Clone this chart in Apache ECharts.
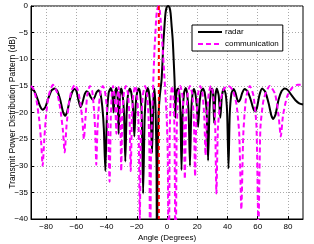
<!DOCTYPE html>
<html><head><meta charset="utf-8">
<script src="https://cdn.jsdelivr.net/npm/echarts@6/dist/echarts.min.js"></script>
<style>html,body{margin:0;padding:0;background:#fff}#c{width:314px;height:244px}</style>
</head><body><div id="c"></div>
<script>
const xTicks = [-80, -60, -40, -20, 0, 20, 40, 60, 80];
const yTicks = [0, -5, -10, -15, -20, -25, -30, -35, -40];
const seriesNames = ['radar', 'communication'];
const commDirection = -5.4;

const radar = [
[-90,-15.5],[-88,-15.9],[-86,-17.2],[-84,-18.8],[-82.2,-19.5],[-80.5,-19],[-78.5,-17.3],[-76.5,-15.9],[-74.5,-15.5],[-72.5,-16],[-70.5,-17.8],[-68.8,-19.9],[-67.4,-20.6],[-66,-19.8],[-64.5,-17.8],[-62.8,-16.2],[-61.2,-15.6],[-60,-15.9],[-58.8,-17.4],[-57.3,-19],[-56,-18.2],[-54.5,-16.6],[-53.1,-16],[-51.7,-16.4],[-50.3,-17.2],[-49.2,-17.6],[-48,-17.2],[-46.6,-16.2],[-45.3,-15.8],[-44,-16.5],[-42.8,-19],[-41.8,-23],[-40.8,-31],
[-39.8,-21],[-38.6,-16.3],[-37.2,-15.4],[-36.2,-16.5],[-35.3,-20],[-34.5,-16.4],[-33.6,-15.4],[-32.7,-17],[-32,-24],[-31.2,-17.2],[-30.3,-15.5],[-29.3,-16.8],[-28.4,-20.5],[-27.6,-29.2],[-26.7,-20],[-25.7,-16.4],[-24.6,-15.5],[-23.5,-16.5],[-22.5,-19],[-21.6,-24.5],[-20.7,-18.5],[-19.7,-16.1],[-18.7,-15.5],[-17.7,-16.5],[-16.7,-20.5],[-15.8,-35.2],[-14.8,-21],[-13.8,-16.5],[-12.8,-15.4],[-11.8,-16.5],[-10.8,-20],[-9.9,-27.6],[-9.1,-18.5],[-8.3,-15.5],[-7.5,-20],[-6.9,-30],[-6.6,-60],[-6.3,-30],[-5.7,-21],[-4.8,-17],[-3.6,-13.9],[-2.9,-10],[-2.3,-6.4],[-1.6,-3.5],[-1,-1.4],[-0.3,-0.3],[0.7,0],[1.7,-0.3],[2.4,-1.4],[3,-3.5],[3.8,-6.4],[4.4,-10],[5,-13.9],[5.3,-17],[5.5,-21],[5.9,-17.5],[6.6,-15.8],[7.4,-15.5],[8.2,-16.5],[8.9,-20],[9.6,-30.8],[10.4,-20],[11.3,-16.3],[12.3,-15.4],[13.3,-16.4],[14.3,-20],[15.2,-30],[16.1,-19.5],[17,-16.2],[17.8,-15.6],[18.8,-16.5],[19.8,-19],[20.6,-22.7],[21.6,-18],[22.7,-16],[23.8,-15.5],[24.9,-16.2],[26.2,-19.5],[27.2,-29],[28.1,-19.5],[29,-16.1],[29.8,-15.5],[30.5,-16.5],[31.2,-22],[32,-17],[33,-15.5],[34.2,-16.8],[35.3,-21],[36.3,-17],[37.5,-15.5],[38.8,-16.5],[39.8,-20],[40.7,-30.5],
[41.5,-20.5],[42.6,-16.5],[44,-15.6],[45.3,-16.3],[46.4,-17.5],[47.3,-18],[48.4,-17.6],[49.8,-16.3],[51.5,-15.6],[53.3,-16],[55.3,-17.5],[57,-19.2],[58.3,-19.8],[59.6,-19],[61.2,-16.7],[63,-15.5],[65,-16.1],[67.3,-18.3],[69,-20.5],[70.3,-21.2],[71.8,-20.4],[73.8,-17.6],[75.8,-16],[77.8,-15.5],[80,-15.8],[82.5,-16.8],[85,-17.7],[87.5,-18.3],[90,-18.5]
];

const communication = [
[-90,-15],[-88.5,-15.5],[-86.5,-17.5],[-84.5,-21.5],[-83.3,-25.5],[-82.3,-30],[-81.2,-25],[-80,-20.5],[-78.3,-16.8],[-75.5,-14.8],[-72.8,-16.2],[-70.8,-19],[-69,-23],[-67.7,-27.5],[-66.5,-22.5],[-65,-18.5],[-63.3,-16],[-61,-14.8],[-59,-15.8],[-57.3,-18.3],[-56,-21.5],[-55,-25],[-54,-21.2],[-52.8,-16.8],[-51,-15],[-49.5,-16],[-48.3,-19.5],[-47.5,-23.5],[-46.8,-29.8],[-46,-23],[-45,-18.5],[-43.8,-15.8],[-42.5,-15],[-41.2,-15.8],[-40,-18.5],[-39,-23.5],[-38,-33],[-37.2,-21],[-36.5,-16.5],[-35.7,-15],[-34.9,-16.5],[-34.1,-19.5],[-33.5,-24],[-32.9,-18.5],[-32,-15.2],[-31.3,-17.5],[-30.8,-22],[-30.3,-31],[-29.6,-21],[-28.6,-16.5],[-27.2,-15],[-25.8,-16.5],[-24.8,-21],[-24,-31],[-23.2,-21],[-22.2,-16.5],[-21,-15],[-19.8,-16.8],[-18.8,-22.5],[-18,-40],[-17.2,-23],[-16,-16.8],[-14.5,-15],[-13.2,-16.5],[-12.2,-21],[-11.6,-28],[-11.2,-55],[-10.6,-28],[-10,-21],[-9.4,-16.7],[-8.8,-12],[-8.3,-8.3],[-7.7,-5.2],[-7.2,-2.6],[-6.6,-0.8],[-5.6,0],[-4.8,-0.8],[-4.2,-2.6],[-3.6,-5.2],[-2.8,-8.3],[-2,-12],[-1,-16.7],[-0.2,-21],[0.5,-28],[1.2,-55],[1.8,-24],[2.5,-17],[3.4,-15],[4.3,-17],[5,-24],[5.7,-55],[6.4,-24],[7.4,-16.8],[8.8,-15],[10.2,-16.8],[11.1,-21.5],[11.8,-32.5],[12.6,-21.5],[13.7,-16.5],[15.2,-15],[16.7,-16.5],[17.8,-21.5],[18.6,-32],[19.4,-21.5],[20.6,-16.5],[22,-15],[23.5,-16.5],[24.7,-21],[25.5,-28],[26.4,-21],[27.6,-16.5],[29,-15],[30.5,-16.5],[31.8,-21.5],[32.7,-35.2],[33.7,-23],[35.3,-18],[37.5,-15.6],[40.5,-15],[43.5,-15.8],[46,-18.5],[47.8,-24],[49.2,-38.2],[50.5,-24],[52.3,-17.3],[54.8,-15],[57.2,-16.8],[59.2,-22.5],[60.5,-42],[61.8,-23],[64,-17.5],[68,-15],[71.5,-16.5],[73.8,-20.5],[75.3,-24.5],[76.8,-20.5],[79.5,-17],[83,-15.3],[86.5,-14.8],[90,-14.8]
];

const font = 'Liberation Sans, Arial, Helvetica, sans-serif';
const minus = v => String(v).replace('-', '\u2212');
const chart = echarts.init(document.getElementById('c'), null, {renderer: 'canvas'});
chart.setOption({
  animation: false,
  backgroundColor: '#fff',
  grid: {left: 31, right: 11, top: 6, bottom: 25, show: true, borderColor: '#000', borderWidth: 1,
         backgroundColor: 'transparent', containLabel: false, outerBoundsMode: 'none'},
  legend: {
    data: seriesNames, orient: 'vertical', left: 192, top: 25,
    backgroundColor: '#fff', borderColor: '#000', borderWidth: 1, borderRadius: 0,
    padding: [3, 4, 3, 5], itemGap: 4, itemWidth: 24, itemHeight: 8,
    itemStyle: {opacity: 0},
    textStyle: {fontFamily: font, fontSize: 8, color: '#000', padding: [0, 0, 0, -2]}
  },
  xAxis: {
    type: 'value', min: -90, max: 90,
    name: 'Angle (Degrees)', nameLocation: 'middle', nameGap: 15, nameMoveOverlap: false,
    nameTextStyle: {fontFamily: font, fontSize: 8, color: '#000'},
    axisLine: {show: true, onZero: false, lineStyle: {color: '#000', width: 1}},
    axisTick: {show: true, inside: true, length: 3, customValues: xTicks, lineStyle: {color: '#000'}},
    axisLabel: {customValues: xTicks, formatter: minus, fontFamily: font, fontSize: 8, color: '#000', margin: 4},
    splitLine: {show: true, lineStyle: {type: [1, 2], color: '#aaa', width: 1}}
  },
  yAxis: {
    type: 'value', min: -40, max: 0, interval: 5,
    name: 'Transmit Power Distribution Pattern (dB)', nameLocation: 'middle', nameGap: 14, nameMoveOverlap: false,
    nameTextStyle: {fontFamily: font, fontSize: 8.5, color: '#000'},
    axisLine: {show: true, onZero: false, lineStyle: {color: '#000', width: 1}},
    axisTick: {show: true, inside: true, length: 3, lineStyle: {color: '#000'}},
    axisLabel: {formatter: minus, fontFamily: font, fontSize: 8, color: '#000', margin: 3},
    splitLine: {show: true, lineStyle: {type: [1, 2], color: '#aaa', width: 1}}
  },
  series: [
    {name: seriesNames[0], type: 'line', data: radar, symbol: 'none', smooth: 0.2, clip: true,
     lineStyle: {color: '#000', width: 2}, itemStyle: {color: '#000'}},
    {name: seriesNames[1], type: 'line', data: communication, symbol: 'none', smooth: 0.2, clip: true,
     lineStyle: {color: '#ff00ff', width: 2, type: [5, 3]}, itemStyle: {color: '#ff00ff'}},
    {name: 'direction', type: 'line', data: [[commDirection, 0], [commDirection, -40]], symbol: 'none', clip: true,
     lineStyle: {color: '#ff0000', width: 2, type: [4, 3]}, itemStyle: {color: '#ff0000'}}
  ]
});
</script></body></html>
